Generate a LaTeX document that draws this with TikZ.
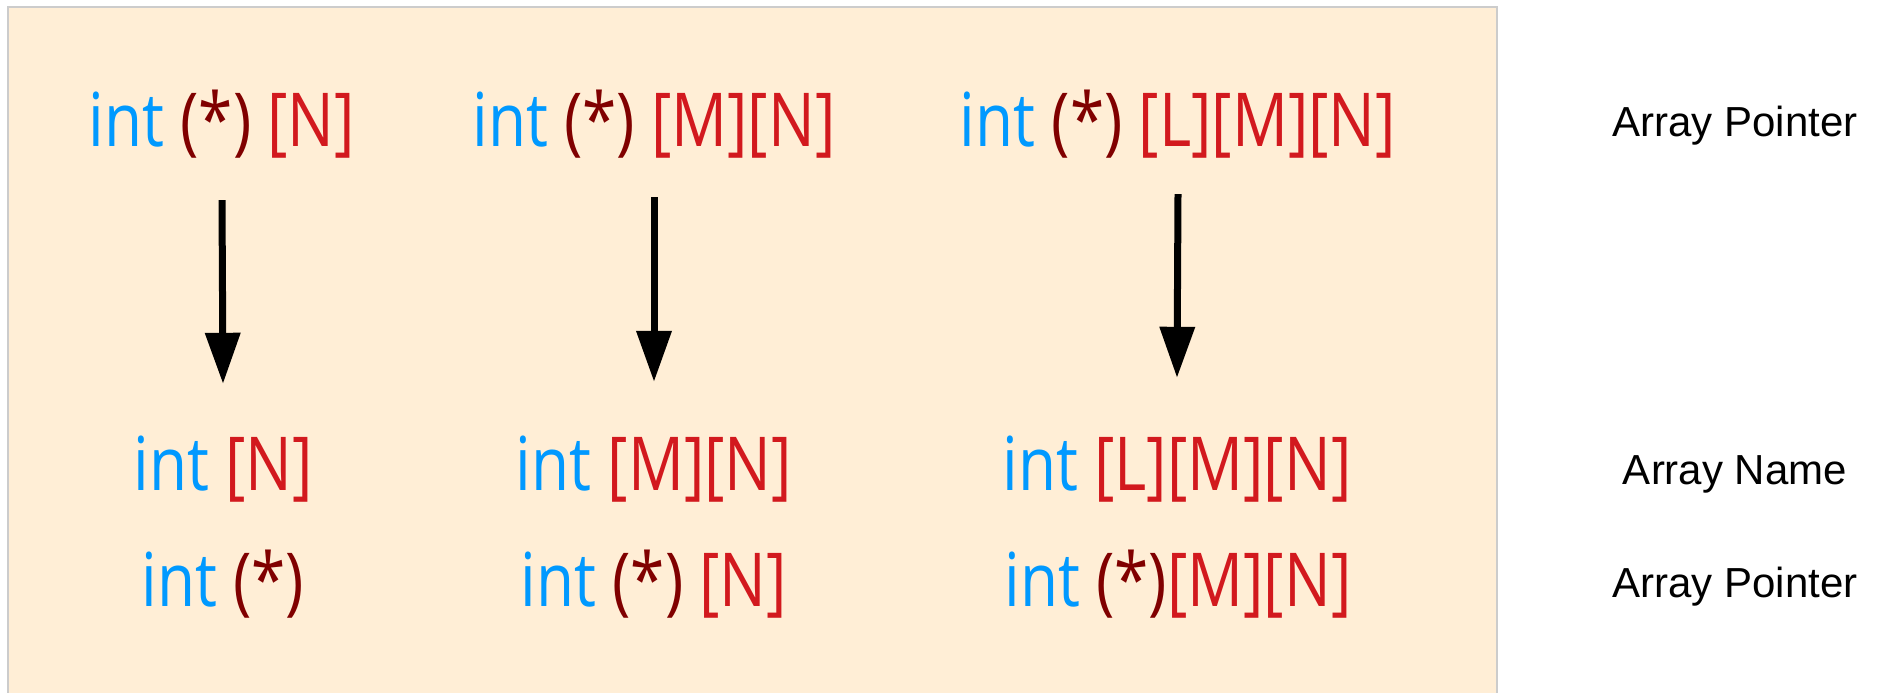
\documentclass[tikz,border=0pt]{standalone}
\usepackage{fontspec}
\setmainfont{Liberation Sans}
\newfontfamily\codefont{Open Sans}
\usetikzlibrary{arrows.meta}
\definecolor{boxfill}{RGB}{255,238,214}
\definecolor{boxline}{RGB}{204,204,204}
\definecolor{kwblue}{RGB}{0,153,255}
\definecolor{ptrred}{RGB}{128,0,0}
\definecolor{dimred}{RGB}{210,25,30}
\newcommand{\kw}[1]{\textcolor{kwblue}{#1}}
\newcommand{\pt}[1]{\textcolor{ptrred}{#1}}
\newcommand{\dm}[1]{\textcolor{dimred}{#1}}
\tikzset{
  code/.style={anchor=base, inner sep=0pt, text height=50pt, text depth=15pt,
    font=\codefont\fontsize{62}{70}\selectfont},
  lbl/.style={anchor=base, inner sep=0pt, font=\fontsize{42}{48}\selectfont},
  arr/.style={line width=7pt, draw=black, -{Triangle[width=34pt,length=51pt]}},
}
\newcommand{\tall}[1]{\scalebox{1}[1.2]{#1}}
\begin{document}
\begin{tikzpicture}[x=1pt,y=1pt]
\useasboundingbox (0,0) rectangle (1881,-693);
\fill[white] (0,0) rectangle (1881,-693);
\draw[fill=boxfill, draw=boxline, line width=1.5pt] (8,-7) rectangle (1497,-710);

% top row
\node[code] (t1) at (222,-146) {\tall{\kw{int} \pt{(*)} \dm{[N]}}};
\node[code] (t2) at (654,-146) {\tall{\kw{int} \pt{(*)} \dm{[M][N]}}};
\node[code] (t3) at (1178,-146) {\tall{\kw{int} \pt{(*)} \dm{[L][M][N]}}};

% middle row
\node[code] (m1) at (223,-490) {\tall{\kw{int} \dm{[N]}}};
\node[code] (m2) at (654,-490) {\tall{\kw{int} \dm{[M][N]}}};
\node[code] (m3) at (1177,-490) {\tall{\kw{int} \dm{[L][M][N]}}};

% bottom row
\node[code] (b1) at (223,-606) {\tall{\kw{int} \pt{(*)}}};
\node[code] (b2) at (654,-606) {\tall{\kw{int} \pt{(*)} \dm{[N]}}};
\node[code] (b3) at (1178,-606) {\tall{\kw{int} \pt{(*)}\dm{[M][N]}}};

% labels
\node[lbl] (l1) at (1735,-136) {Array Pointer};
\node[lbl] (l2) at (1735,-484) {Array Name};
\node[lbl] (l3) at (1735,-597) {Array Pointer};

% arrows
\draw[arr] ([yshift=-39pt]t1.south) -- ([yshift=56pt]m1.north);
\draw[arr] ([yshift=-36pt]t2.south) -- ([yshift=58pt]m2.north);
\draw[arr] ([yshift=-33pt]t3.south) -- ([yshift=62pt]m3.north);
\end{tikzpicture}
\end{document}
